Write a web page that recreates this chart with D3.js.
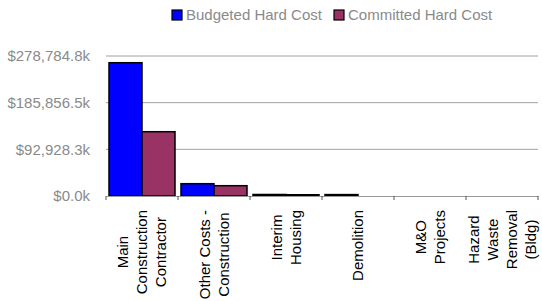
<!DOCTYPE html>
<html>
<head>
<meta charset="utf-8">
<script src="https://cdn.jsdelivr.net/npm/d3@7"></script>
<style>
  body { margin: 0; background: #fff; }
  text { font-family: "Liberation Sans", Arial, sans-serif; }
</style>
</head>
<body>
<div id="chart"></div>
<script>
// data (values in $k)
var categories = [
  ["Main", "Construction", "Contractor"],
  ["Other Costs -", "Construction"],
  ["Interim", "Housing"],
  ["Demolition"],
  ["M&O", "Projects"],
  ["Hazard", "Waste", "Removal", "(Bldg)"]
];
var seriesNames = ["Budgeted Hard Cost", "Committed Hard Cost"];
var budgeted = [265400, 24500, 3000, 2800, 0, 0];
var committed = [128000, 20500, 2500, 0, 0, 0];
var yTicks = [0, 92928.3, 185856.5, 278784.8];

var colors = ["#0000ff", "#993366"];

var svgWidth = 542;
var svgHeight = 301;

var svg = d3.select('#chart')
  .append('svg')
  .attr('width', svgWidth)
  .attr('height', svgHeight);

// scales
var xScale = d3.scaleBand()
  .domain(d3.range(categories.length))
  .range([106, 538]);

var xInner = d3.scaleBand()
  .domain([0, 1])
  .range([3, xScale.bandwidth() - 3]);

var yScale = d3.scaleLinear()
  .domain([0, yTicks[yTicks.length - 1]])
  .range([196, 56]);

var fmt = d3.format(",.1f");

// gridlines
svg.append("g")
  .selectAll("line")
  .data(yTicks.slice(1))
  .enter()
  .append("line")
  .attr("x1", 106)
  .attr("x2", 538)
  .attr("y1", d => yScale(d))
  .attr("y2", d => yScale(d))
  .attr("stroke", "#a0a0a0")
  .attr("stroke-width", 1);

// y labels
svg.append("g")
  .selectAll("text")
  .data(yTicks)
  .enter()
  .append("text")
  .attr("x", 90)
  .attr("y", d => yScale(d))
  .attr("dy", "0.35em")
  .attr("text-anchor", "end")
  .attr("font-size", 15)
  .attr("fill", "#8a8a8a")
  .text(d => "$" + fmt(d) + "k");

// bars
var rows = categories.map((c, i) => [budgeted[i], committed[i]]);
var groups = svg.append("g")
  .selectAll("g")
  .data(rows)
  .enter()
  .append("g")
  .attr("transform", (d, i) => `translate(${xScale(i)},0)`);

groups.selectAll("rect")
  .data(d => d.map((v, j) => ({ v: v, j: j })))
  .enter()
  .filter(d => d.v > 0)
  .append("rect")
  .attr("x", d => xInner(d.j))
  .attr("width", xInner.bandwidth())
  .attr("y", d => yScale(d.v))
  .attr("height", d => yScale(0) - yScale(d.v))
  .attr("fill", d => colors[d.j])
  .attr("stroke", "#000")
  .attr("stroke-width", 1.5);

// x axis
var xAxis = d3.axisBottom(xScale)
  .tickSize(0)
  .tickFormat("");
svg.append("g")
  .attr("transform", "translate(0,196)")
  .call(xAxis)
  .call(g => g.select(".domain").attr("stroke", "#999"));

svg.append("g")
  .selectAll("line")
  .data(d3.range(categories.length + 1))
  .enter()
  .append("line")
  .attr("x1", i => 106 + i * xScale.bandwidth())
  .attr("x2", i => 106 + i * xScale.bandwidth())
  .attr("y1", 196)
  .attr("y2", 200)
  .attr("stroke", "#555");

// category labels (rotated, lines centred, longest line ends at top)
var labelTop = 210;
var lineGap = 19;
categories.forEach(function(lines, i) {
  var cx = xScale(i) + xScale.bandwidth() / 2;
  var g = svg.append("g");
  var texts = g.selectAll("text")
    .data(lines)
    .enter()
    .append("text")
    .attr("font-size", 15)
    .attr("fill", "#000")
    .attr("text-anchor", "middle")
    .text(d => d);
  var maxLen = d3.max(texts.nodes(), n => n.getComputedTextLength());
  var cy = labelTop + maxLen / 2;
  var n = lines.length;
  texts.attr("transform", (d, k) => {
    var x = cx + (k - (n - 1) / 2) * lineGap + 5;
    return `translate(${x},${cy}) rotate(-90)`;
  });
});

// legend
var legend = svg.append("g");
var legendX = [172, 334];
seriesNames.forEach(function(name, j) {
  legend.append("rect")
    .attr("x", legendX[j])
    .attr("y", 10)
    .attr("width", 10)
    .attr("height", 10)
    .attr("fill", colors[j])
    .attr("stroke", "#000")
    .attr("stroke-width", 1.2);
  legend.append("text")
    .attr("x", legendX[j] + 14)
    .attr("y", 20)
    .attr("font-size", 15)
    .attr("fill", "#8a8a8a")
    .text(name);
});
</script>
</body>
</html>
